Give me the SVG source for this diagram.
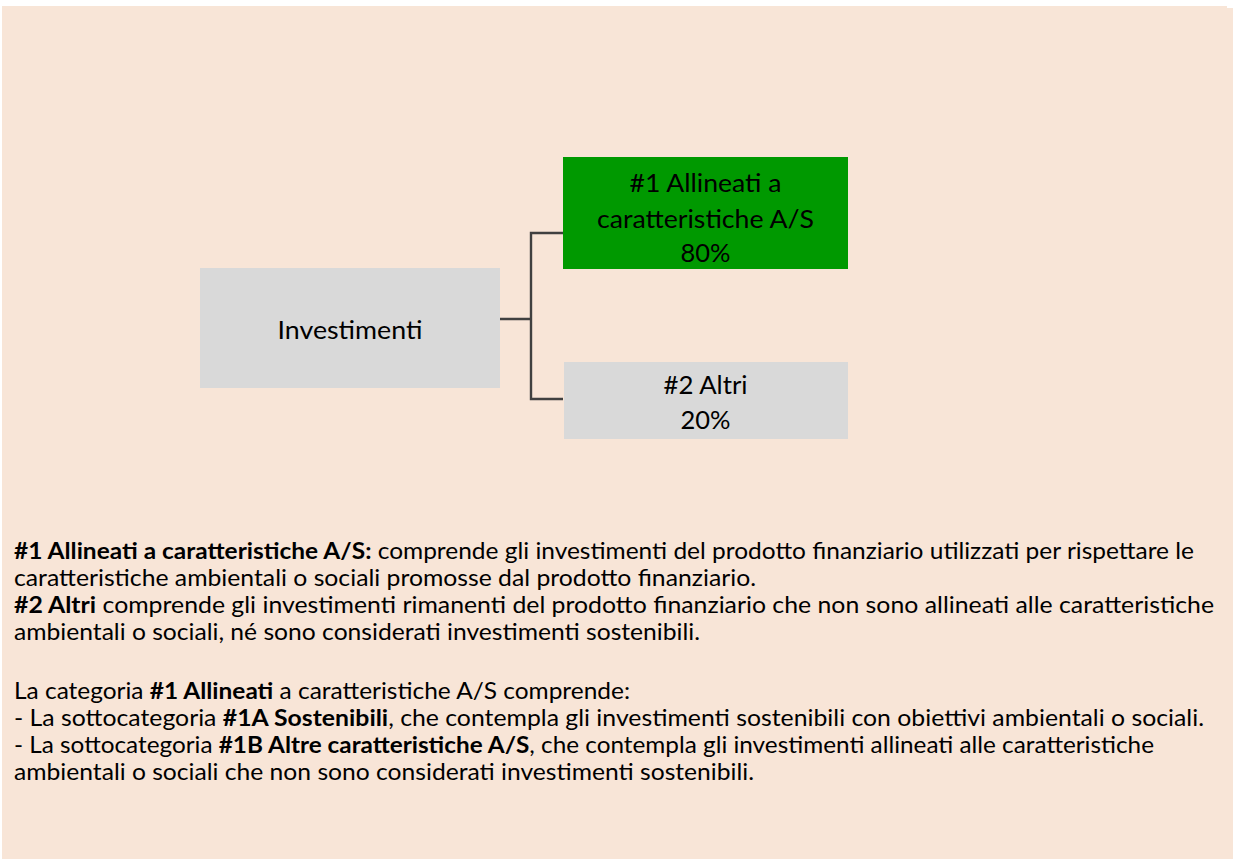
<svg xmlns="http://www.w3.org/2000/svg" width="1237" height="859" viewBox="0 0 1237 859">
<style>
.bg{fill:#F8E5D7}
.gray{fill:#D9D9D9}
.green{fill:#009900}
.n{font-family:Lato,"Open Sans","Liberation Sans",sans-serif;font-size:25.7px;fill:#000;text-anchor:middle}
.p{font-family:Lato,"Open Sans","Liberation Sans",sans-serif;font-size:23.4px;fill:#000}
.b{font-weight:bold}
.conn{fill:none;stroke:#404040;stroke-width:2.4}
</style>
<rect class="bg" x="2" y="6" width="1225" height="853"/>
<rect class="bg" x="2" y="8" width="1231" height="851"/>
<g id="connectors">
<path class="conn" d="M500 319 H531 M563 233 H531 V399 H563"/>
</g>
<g id="node-investimenti">
<rect class="gray" x="200" y="268" width="300" height="120"/>
<text class="n" x="350" y="339" textLength="145" lengthAdjust="spacingAndGlyphs">Investimenti</text>
</g>
<g id="node-allineati">
<rect class="green" x="563" y="157" width="285" height="112"/>
<text class="n" x="705.5" y="192" textLength="152" lengthAdjust="spacingAndGlyphs">#1 Allineati a</text>
<text class="n" x="705.5" y="228" textLength="217" lengthAdjust="spacingAndGlyphs">caratteristiche A/S</text>
<text class="n" x="705.5" y="262" textLength="50" lengthAdjust="spacingAndGlyphs">80%</text>
</g>
<g id="node-altri">
<rect class="gray" x="564" y="362" width="284" height="77"/>
<text class="n" x="705.5" y="394" textLength="84" lengthAdjust="spacingAndGlyphs">#2 Altri</text>
<text class="n" x="705.5" y="429" textLength="50" lengthAdjust="spacingAndGlyphs">20%</text>
</g>
<g id="legend">
<text class="p" x="14" y="559" textLength="1180" lengthAdjust="spacingAndGlyphs"><tspan class="b">#1 Allineati a caratteristiche A/S:</tspan> comprende gli investimenti del prodotto finanziario utilizzati per rispettare le</text>
<text class="p" x="14" y="586" textLength="742" lengthAdjust="spacingAndGlyphs">caratteristiche ambientali o sociali promosse dal prodotto finanziario.</text>
<text class="p" x="14" y="613" textLength="1200" lengthAdjust="spacingAndGlyphs"><tspan class="b">#2 Altri</tspan> comprende gli investimenti rimanenti del prodotto finanziario che non sono allineati alle caratteristiche</text>
<text class="p" x="14" y="640" textLength="686" lengthAdjust="spacingAndGlyphs">ambientali o sociali, né sono considerati investimenti sostenibili.</text>
<text class="p" x="14" y="699" textLength="616" lengthAdjust="spacingAndGlyphs">La categoria <tspan class="b">#1 Allineati</tspan> a caratteristiche A/S comprende:</text>
<text class="p" x="14" y="726" textLength="1190" lengthAdjust="spacingAndGlyphs">- La sottocategoria <tspan class="b">#1A Sostenibili</tspan>, che contempla gli investimenti sostenibili con obiettivi ambientali o sociali.</text>
<text class="p" x="14" y="753" textLength="1140" lengthAdjust="spacingAndGlyphs">- La sottocategoria <tspan class="b">#1B Altre caratteristiche A/S</tspan>, che contempla gli investimenti allineati alle caratteristiche</text>
<text class="p" x="14" y="780" textLength="740" lengthAdjust="spacingAndGlyphs">ambientali o sociali che non sono considerati investimenti sostenibili.</text>
</g>
</svg>
